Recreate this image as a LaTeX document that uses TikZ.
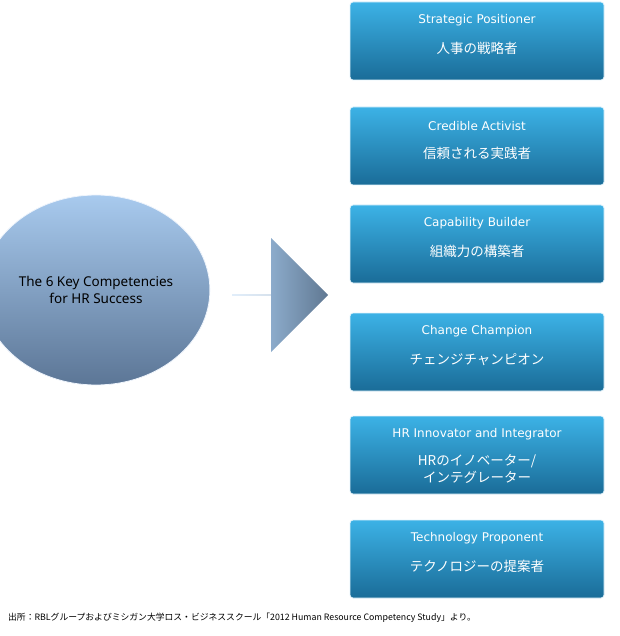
\documentclass[tikz,border=0pt]{standalone}
\usepackage{fontspec}
\setmainfont{DejaVu Sans}
\newfontfamily\jpfont{Noto Sans CJK JP}
\newfontfamily\circfont{Noto Sans}
\usetikzlibrary{positioning, shapes.arrows, shapes.geometric, calc}
\definecolor{boxtop}{RGB}{60,178,230}
\definecolor{boxbot}{RGB}{26,108,152}
\definecolor{circtop}{RGB}{168,202,238}
\definecolor{circbot}{RGB}{92,118,150}
\definecolor{arrleft}{RGB}{170,206,242}
\definecolor{arrright}{RGB}{96,120,146}

\tikzset{
    compbox/.style={rectangle, rounded corners=3pt, minimum width=254pt, minimum height=78pt,
        top color=boxtop, bottom color=boxbot, draw=white!85!boxtop, line width=0.8pt},
    entitle/.style={font=\fontsize{12}{14}\selectfont, text=white},
    jptitle/.style={font=\jpfont\fontsize{13.5}{17}\selectfont, text=white, align=center}
}

\begin{document}
\begin{tikzpicture}[x=1pt, y=-1pt]
    \useasboundingbox (0,0) rectangle (619,636);

    % Cercle central
    \node[ellipse, minimum width=188pt, minimum height=190pt, top color=circtop, bottom color=circbot,
        draw=white!80!circtop, line width=0.8pt, align=center, font=\circfont\fontsize{13.5}{17}\selectfont]
        (core) at (96,290) {The 6 Key Competencies\\for HR Success};

    % Fleche
    \node[single arrow, minimum height=96pt, minimum width=114pt, single arrow head extend=29pt,
        left color=arrleft, right color=arrright, inner sep=0pt]
        (flow) at (280,295) {};

    % Competences
    \foreach \name/\y/\en in {
        sp/41/Strategic Positioner,
        ca/146/Credible Activist,
        cb/244/Capability Builder,
        cc/352/Change Champion,
        hi/455/HR Innovator and Integrator,
        tp/559/Technology Proponent} {
        \node[compbox] (\name) at (477,\y) {};
        \node[entitle] (\name-en) at ($(\name.north)+(0,19)$) {\en};
    }
    \node[jptitle] (sp-jp) at ($(sp.north)+(0,47)$) {人事の戦略者};
    \node[jptitle] (ca-jp) at ($(ca.north)+(0,47)$) {信頼される実践者};
    \node[jptitle] (cb-jp) at ($(cb.north)+(0,47)$) {組織力の構築者};
    \node[jptitle] (cc-jp) at ($(cc.north)+(0,47)$) {チェンジチャンピオン};
    \node[jptitle] (hi-jp) at ($(hi.north)+(0,53)$) {HRのイノベーター/\\インテグレーター};
    \node[jptitle] (tp-jp) at ($(tp.north)+(0,47)$) {テクノロジーの提案者};

    % Source
    \node[anchor=west, font=\jpfont\fontsize{8.8}{10}\selectfont, inner sep=0pt] (src) at (8,618)
        {出所：RBLグループおよびミシガン大学ロス・ビジネススクール「2012 Human Resource Competency Study」より。};
\end{tikzpicture}
\end{document}
